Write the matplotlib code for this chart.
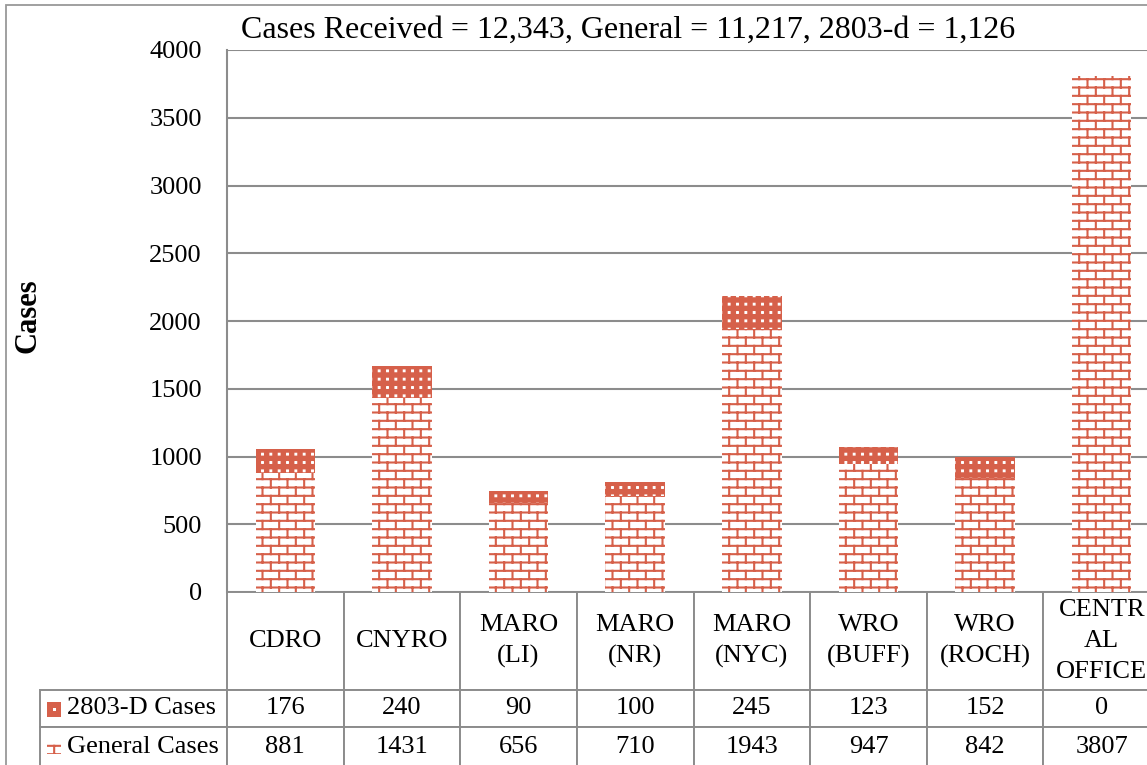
import warnings
import matplotlib
matplotlib.use("Agg")
import matplotlib.pyplot as plt
import matplotlib.hatch as mhatch
from matplotlib.path import Path
from matplotlib.patches import Rectangle

warnings.simplefilter("ignore")

categories = ['CDRO', 'CNYRO', 'MARO\n(LI)', 'MARO\n(NR)', 'MARO\n(NYC)',
              'WRO\n(BUFF)', 'WRO\n(ROCH)', 'CENTR\nAL\nOFFICE']
cases_2803d = [176, 240, 90, 100, 245, 123, 152, 0]
general_cases = [881, 1431, 656, 710, 1943, 947, 842, 3807]
row_labels = ['2803-D Cases', 'General Cases']
title = 'Cases Received = 12,343, General = 11,217, 2803-d = 1,126'

ORANGE = '#d6604a'
GRID = '#8c8c8c'


# motif "mattoni" per la serie General Cases (carattere 'B')
class BrickHatch(mhatch.HatchPatternBase):
    rows = 12
    cols = 6

    def __init__(self, hatch, density):
        self.on = 'B' in hatch
        if self.on:
            self.num_vertices = self.rows * 2 + (self.rows + 1) * self.cols * 2
        else:
            self.num_vertices = 0

    def set_vertices_and_codes(self, vertices, codes):
        k = 0
        for i in range(self.rows):
            y = (i + 0.5) / self.rows
            vertices[k] = (0, y)
            vertices[k + 1] = (1, y)
            codes[k] = Path.MOVETO
            codes[k + 1] = Path.LINETO
            k += 2
        for i in range(self.rows + 1):
            y0 = (i - 0.5) / self.rows
            y1 = (i + 0.5) / self.rows
            off = 0.5 if i % 2 else 0.0
            for j in range(self.cols):
                x = (j + off + 0.25) / self.cols
                vertices[k] = (x, y0)
                vertices[k + 1] = (x, y1)
                codes[k] = Path.MOVETO
                codes[k + 1] = Path.LINETO
                k += 2


# motif a puntini quadrati per la serie 2803-D (carattere 'p')
class DotHatch(mhatch.HatchPatternBase):
    n = 12
    s = 0.004

    def __init__(self, hatch, density):
        self.on = 'p' in hatch
        self.num_vertices = self.n * self.n * 5 if self.on else 0

    def set_vertices_and_codes(self, vertices, codes):
        k = 0
        s = self.s
        for i in range(self.n):
            for j in range(self.n):
                cx = (j + 0.5) / self.n
                cy = (i + 0.5) / self.n
                pts = [(cx - s, cy - s), (cx + s, cy - s), (cx + s, cy + s),
                       (cx - s, cy + s), (cx - s, cy - s)]
                for m, p in enumerate(pts):
                    vertices[k] = p
                    codes[k] = Path.MOVETO if m == 0 else (
                        Path.CLOSEPOLY if m == 4 else Path.LINETO)
                    k += 1


mhatch._hatch_types.append(BrickHatch)
mhatch._hatch_types.append(DotHatch)

plt.rcParams['font.family'] = ['Liberation Serif', 'DejaVu Serif']
plt.rcParams['hatch.linewidth'] = 1.5

W, H = 1147, 765
AW, AH = 933, 542
fig = plt.figure(figsize=(W / 100, H / 100), dpi=100)

# bordo esterno del grafico
fig.patches.append(Rectangle((6 / W, -0.1), 1.2, 1 - 5 / H + 0.1,
                             transform=fig.transFigure, fill=False,
                             edgecolor='#999999', linewidth=1.3))

ax = fig.add_axes([227 / W, 173 / H, AW / W, AH / H])
x = list(range(len(categories)))
ax.bar(x, general_cases, width=0.51, facecolor='white', edgecolor=ORANGE,
       linewidth=0, hatch='B')
ax.bar(x, cases_2803d, width=0.51, bottom=general_cases, facecolor=ORANGE,
       edgecolor='white', linewidth=0, hatch='p')

ax.set_xlim(-0.5, len(categories) - 0.5)
ax.set_ylim(0, 4000)
ax.set_yticks(range(0, 4001, 500))
ax.set_xticks([])
ax.tick_params(axis='y', length=0, pad=18, labelsize=19)
ax.yaxis.grid(True, color=GRID, linewidth=1.5)
ax.set_axisbelow(True)
for side in ['top', 'right', 'bottom']:
    ax.spines[side].set_visible(False)
ax.spines['left'].set_color(GRID)
ax.spines['left'].set_linewidth(1.5)

fig.text(628 / W, 1 - 30 / H, title, ha='center', va='center', fontsize=23)
fig.text(28 / W, 1 - 316 / H, 'Cases', ha='center', va='center',
         rotation=90, fontsize=22, fontweight='bold')

# tabella dati sotto il grafico (misure in frazioni degli assi)
heights = {0: 98 / AH, 1: 37 / AH, 2: 40 / AH}
label_w = 187 / AW
cell_text = [[str(v) for v in cases_2803d], [str(v) for v in general_cases]]
tbl = ax.table(cellText=cell_text, rowLabels=row_labels, colLabels=categories,
               cellLoc='center', rowLoc='left', colLoc='center',
               bbox=[0, -sum(heights.values()), 1, sum(heights.values())])
tbl._autoColumns = []  # niente larghezza automatica per la colonna etichette
tbl.auto_set_font_size(False)
tbl.set_fontsize(19)
for (r, c), cell in tbl.get_celld().items():
    cell.set_edgecolor(GRID)
    cell.set_linewidth(1.4)
    cell.set_height(heights[r])
    cell.set_width(label_w if c == -1 else 1 / len(categories))
    cell.get_text().set_linespacing(1.5)
    if c == -1:
        cell.PAD = 27 / 187

# marcatori della legenda nella tabella
ax.add_patch(Rectangle((-180 / AW, -125 / AH), 14 / AW, 15 / AH,
                       transform=ax.transAxes, clip_on=False,
                       facecolor=ORANGE, linewidth=0))
ax.add_patch(Rectangle((-174.5 / AW, -119 / AH), 3 / AW, 3 / AH,
                       transform=ax.transAxes, clip_on=False,
                       facecolor='white', linewidth=0))
ax.add_patch(Rectangle((-180 / AW, -162 / AH), 14 / AW, 13 / AH,
                       transform=ax.transAxes, clip_on=False,
                       facecolor='white', edgecolor=ORANGE, linewidth=0,
                       hatch='B'))

fig.savefig('out.png', dpi=100)
